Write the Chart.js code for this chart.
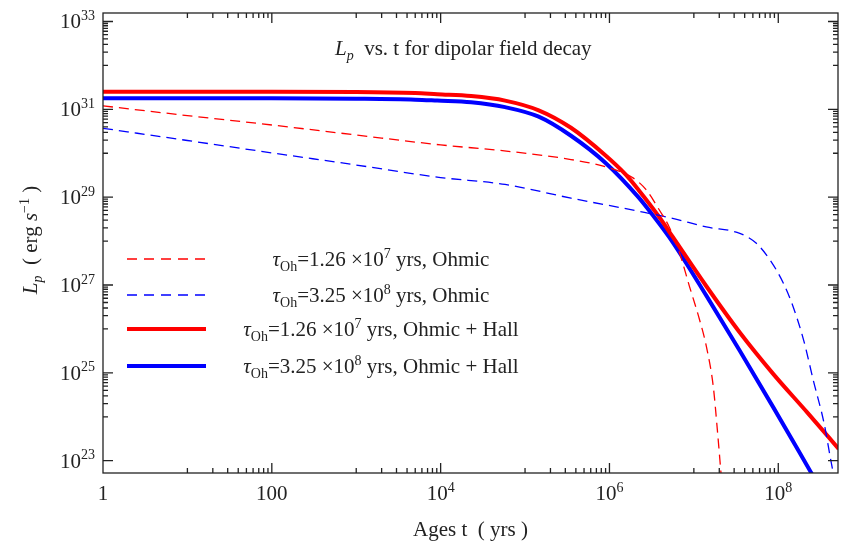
<!DOCTYPE html>
<html>
<head>
<meta charset="utf-8">
<script src="https://cdn.jsdelivr.net/npm/chart.js@4.4.1/dist/chart.umd.min.js"></script>
<style>
  html, body { margin: 0; padding: 0; background: #fff; }
</style>
</head>
<body>
<canvas id="lpChart" width="845" height="546"></canvas>
<script>
// ages in years, luminosity L_p in erg/s
const agesOhmicA = [1, 10, 100, 1e3, 1e4, 6e4, 3.5e5, 9e5, 1.9e6, 2.7e6, 3.9e6, 5.1e6, 6.8e6, 8.9e6, 1.17e7, 1.41e7, 1.7e7, 1.9e7, 2.1e7];
const lumOhmicA = [1.2e31, 7.2e30, 4.4e30, 2.6e30, 1.55e30, 1.12e30, 7.2e29, 4.9e29, 2.75e29, 1.5e29, 5.1e28, 2.1e28, 5.2e27, 9.1e26, 1.6e26, 3.9e25, 4.8e24, 4.9e23, 5e22];

const agesOhmicB = [1, 10, 100, 1e3, 1e4, 5.8e4, 3.5e5, 2.2e6, 5.6e6, 1.4e7, 3.5e7, 5.5e7, 8e7, 1.15e8, 1.5e8, 2e8, 2.6e8, 3.5e8, 4.2e8, 4.5e8];
const lumOhmicB = [3.7e30, 1.95e30, 1.02e30, 5.4e29, 2.8e29, 1.95e29, 9.5e28, 4.8e28, 3.3e28, 2.1e28, 1.5e28, 8.9e27, 3.7e27, 1.1e27, 3.2e26, 5.5e25, 6.8e24, 6.9e23, 1e23, 5e22];

const agesHallA = [1, 10, 100, 1e3, 5e3, 9.1e3, 2.3e4, 5.8e4, 1.45e5, 3.5e5, 9e5, 1.55e6, 2.2e6, 3.9e6, 5.6e6, 1.4e7, 3.5e7, 8.7e7, 2.2e8, 5.2e8];
const lumHallA = [2.5e31, 2.5e31, 2.5e31, 2.48e31, 2.35e31, 2.2e31, 2.0e31, 1.58e31, 9.5e30, 3.8e30, 8.9e29, 3.3e29, 1.48e29, 3.5e28, 1.26e28, 9.5e26, 8.3e25, 9.5e24, 1.26e24, 1.86e23];

const agesHallB = [1, 10, 100, 1e3, 5e3, 9.1e3, 2.3e4, 5.8e4, 1.45e5, 3.5e5, 9e5, 2.2e6, 3.1e6, 5.6e6, 1.4e7, 3.5e7, 8.7e7, 2.5e8];
const lumHallB = [1.78e31, 1.78e31, 1.78e31, 1.74e31, 1.66e31, 1.58e31, 1.45e31, 1.12e31, 6.8e30, 2.5e30, 6.0e29, 1.0e29, 4.4e28, 9.5e27, 5.8e26, 3.2e25, 1.66e24, 5e22];

// labelled ticks, exponent after '^'
const xTicks = [1, 100, 1e4, 1e6, 1e8];
const xTickLabels = ['1', '100', '10^4', '10^6', '10^8'];
const yTicks = [1e23, 1e25, 1e27, 1e29, 1e31, 1e33];
const yTickLabels = ['10^23', '10^25', '10^27', '10^29', '10^31', '10^33'];

const RED = 'rgb(255, 0, 0)';
const BLUE = 'rgb(0, 0, 255)';
const INK = '#222';
const FONT = '"Liberation Serif", "Times New Roman", serif';
const SIZE = 21;

const toPoints = (xs, ys) => xs.map((t, i) => ({ x: t, y: ys[i] }));

function fontFor(style) {
    const small = style === 'sup' || style.startsWith('sub');
    const italic = style === 'i' || style === 'subi';
    return (italic ? 'italic ' : '') + (small ? Math.round(SIZE * 0.68) : SIZE) + 'px ' + FONT;
}

// draws a run of [text, style] pieces on one baseline
function drawRich(ctx, parts, x, y, align) {
    let w = 0;
    parts.forEach(p => { ctx.font = fontFor(p[1]); w += ctx.measureText(p[0]).width; });
    let cx = align === 'center' ? x - w / 2 : align === 'right' ? x - w : x;
    ctx.textAlign = 'left';
    ctx.textBaseline = 'alphabetic';
    parts.forEach(p => {
        ctx.font = fontFor(p[1]);
        const dy = p[1] === 'sup' ? -SIZE * 0.4 : p[1].startsWith('sub') ? SIZE * 0.24 : 0;
        ctx.fillText(p[0], cx, y + dy);
        cx += ctx.measureText(p[0]).width;
    });
}

function tickParts(label) {
    const [base, exp] = label.split('^');
    return exp ? [[base, 'n'], [exp, 'sup']] : [[base, 'n']];
}

function minorTicks(majors) {
    const out = [];
    majors.forEach((m, k) => {
        if (k === 0) return;
        for (let j = 1; j <= 9; j++) out.push(j * m / 10);
    });
    return out;
}

const legendRows = [
    { color: RED, dash: [10, 7], width: 1.3, parts: [['τ', 'i'], ['Oh', 'sub'], ['=1.26 ×10', 'n'], ['7', 'sup'], [' yrs, Ohmic', 'n']] },
    { color: BLUE, dash: [10, 7], width: 1.3, parts: [['τ', 'i'], ['Oh', 'sub'], ['=3.25 ×10', 'n'], ['8', 'sup'], [' yrs, Ohmic', 'n']] },
    { color: RED, dash: [], width: 4, parts: [['τ', 'i'], ['Oh', 'sub'], ['=1.26 ×10', 'n'], ['7', 'sup'], [' yrs, Ohmic + Hall', 'n']] },
    { color: BLUE, dash: [], width: 4, parts: [['τ', 'i'], ['Oh', 'sub'], ['=3.25 ×10', 'n'], ['8', 'sup'], [' yrs, Ohmic + Hall', 'n']] }
];

const framePlugin = {
    id: 'frameAndLabels',
    afterDatasetsDraw(chart) {
        const { ctx, chartArea: a, scales: { x, y } } = chart;
        ctx.save();

        // frame
        ctx.strokeStyle = INK;
        ctx.lineWidth = 1.3;
        ctx.setLineDash([]);
        ctx.strokeRect(a.left, a.top, a.right - a.left, a.bottom - a.top);

        // inward ticks on all four sides
        ctx.beginPath();
        const xMark = (v, len) => {
            const px = x.getPixelForValue(v);
            if (px <= a.left + 1 || px >= a.right - 1) return;
            ctx.moveTo(px, a.bottom); ctx.lineTo(px, a.bottom - len);
            ctx.moveTo(px, a.top); ctx.lineTo(px, a.top + len);
        };
        const yMark = (v, len) => {
            const py = y.getPixelForValue(v);
            if (py <= a.top + 1 || py >= a.bottom - 1) return;
            ctx.moveTo(a.left, py); ctx.lineTo(a.left + len, py);
            ctx.moveTo(a.right, py); ctx.lineTo(a.right - len, py);
        };
        xTicks.forEach(v => xMark(v, 10));
        minorTicks(xTicks).forEach(v => xMark(v, 5));
        yTicks.forEach(v => yMark(v, 10));
        minorTicks(yTicks).forEach(v => yMark(v, 5));
        ctx.stroke();

        // tick labels
        ctx.fillStyle = INK;
        xTicks.forEach((v, i) => drawRich(ctx, tickParts(xTickLabels[i]), x.getPixelForValue(v), a.bottom + 27, 'center'));
        yTicks.forEach((v, i) => drawRich(ctx, tickParts(yTickLabels[i]), a.left - 8, y.getPixelForValue(v) + 7, 'right'));

        // axis titles
        drawRich(ctx, [['Ages t  ( yrs )', 'n']], (a.left + a.right) / 2, a.bottom + 63, 'center');
        ctx.save();
        ctx.translate(30, 240);
        ctx.rotate(-Math.PI / 2);
        drawRich(ctx, [['L', 'i'], ['p', 'subi'], ['  ( erg ', 'n'], ['s', 'i'], ['−1', 'sup'], [' )', 'n']], 0, 7, 'center');
        ctx.restore();

        // plot label
        drawRich(ctx, [['L', 'i'], ['p', 'subi'], ['  vs. t for dipolar field decay', 'n']], 335, 55, 'left');

        // legend
        legendRows.forEach((row, i) => {
            const ry = [259, 295, 329, 366][i];
            ctx.beginPath();
            ctx.strokeStyle = row.color;
            ctx.lineWidth = row.width;
            ctx.setLineDash(row.dash);
            ctx.moveTo(127, ry);
            ctx.lineTo(206, ry);
            ctx.stroke();
            ctx.fillStyle = INK;
            drawRich(ctx, row.parts, 381, ry + 7, 'center');
        });

        ctx.restore();
    }
};

const chart = new Chart(document.getElementById('lpChart').getContext('2d'), {
    type: 'line',
    data: {
        datasets: [{
            label: 'Ohmic, 1.26e7 yrs',
            data: toPoints(agesOhmicA, lumOhmicA),
            borderColor: RED,
            borderWidth: 1.3,
            borderDash: [10, 6]
        }, {
            label: 'Ohmic, 3.25e8 yrs',
            data: toPoints(agesOhmicB, lumOhmicB),
            borderColor: BLUE,
            borderWidth: 1.3,
            borderDash: [10, 6]
        }, {
            label: 'Ohmic + Hall, 1.26e7 yrs',
            data: toPoints(agesHallA, lumHallA),
            borderColor: RED,
            borderWidth: 4
        }, {
            label: 'Ohmic + Hall, 3.25e8 yrs',
            data: toPoints(agesHallB, lumHallB),
            borderColor: BLUE,
            borderWidth: 4
        }]
    },
    options: {
        responsive: false,
        animation: false,
        devicePixelRatio: 1,
        layout: { padding: { left: 103, right: 7, top: 13, bottom: 73 } },
        elements: {
            point: { radius: 0 },
            line: { cubicInterpolationMode: 'monotone', fill: false }
        },
        datasets: { line: { clip: 0 } },
        scales: {
            x: { type: 'logarithmic', display: false, min: 1, max: 5.1e8 },
            y: { type: 'logarithmic', display: false, min: 5.25e22, max: 1.56e33 }
        },
        plugins: {
            legend: { display: false },
            tooltip: { enabled: false }
        }
    },
    plugins: [framePlugin]
});
</script>
</body>
</html>
